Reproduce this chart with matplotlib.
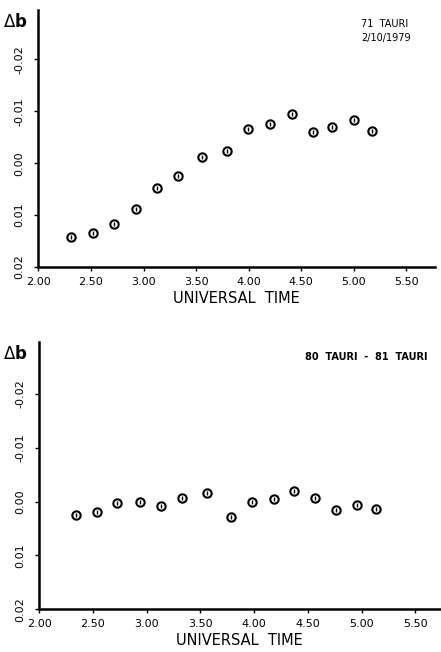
import numpy as np
import matplotlib
matplotlib.use('Agg')
import matplotlib.pyplot as plt

# 71 Tauri, 2/10/1979
ut_71 = [2.31, 2.52, 2.72, 2.93, 3.13, 3.33, 3.56, 3.79, 3.99, 4.20, 4.41, 4.61, 4.79, 5.00, 5.17]
db_71 = [0.0142, 0.0134, 0.0118, 0.0089, 0.0047, 0.0025, -0.0011, -0.0024, -0.0065, -0.0076,
         -0.0094, -0.0060, -0.0069, -0.0083, -0.0063]

# 80 Tauri - 81 Tauri
ut_80 = [2.345, 2.54, 2.72, 2.935, 3.135, 3.33, 3.56, 3.78, 3.98, 4.18, 4.37, 4.57, 4.765, 4.955, 5.13]
db_80 = [0.0025, 0.0019, 0.0002, 0.0001, 0.0008, -0.0006, -0.0016, 0.0029, 0.0001, -0.0005,
         -0.0019, -0.0006, 0.0015, 0.0007, 0.0014]

xticks = [2.00, 2.50, 3.00, 3.50, 4.00, 4.50, 5.00, 5.50]
yticks = [0.02, 0.01, 0.00, -0.01, -0.02]

plt.rcParams['font.family'] = ['DejaVu Sans']

fig = plt.figure(figsize=(4.41, 6.52), dpi=100)
ax1 = fig.add_axes([0.087, 0.5905, 0.899, 0.394])
ax2 = fig.add_axes([0.089, 0.0655, 0.909, 0.4105])


def setup(ax, x, y, xmax, ymin):
    ax.plot(x, y, 'o', ms=6, mfc='white', mec='black', mew=1.5, ls='none')
    ax.plot(x, y, '|', ms=2.5, mec='black', mew=1.0, ls='none')
    ax.set_xlim(2.0, xmax)
    ax.set_ylim(0.02, ymin)
    for s in ['top', 'right']:
        ax.spines[s].set_visible(False)
    for s in ['left', 'bottom']:
        ax.spines[s].set_linewidth(1.8)
    ax.set_xticks(xticks)
    ax.set_xticklabels(['%.2f' % v for v in xticks], fontsize=8)
    ax.set_yticks(yticks)
    ax.set_yticklabels(['%.2f' % v for v in yticks], fontsize=8, rotation=90, va='center')
    ax.tick_params(axis='x', direction='out', length=3, width=1.0, pad=4)
    ax.tick_params(axis='y', direction='out', length=3, width=1.0, pad=7)
    ax.set_xlabel('UNIVERSAL  TIME', fontsize=10.5, labelpad=3)
    ax.text(-0.09, 0.955, r'$\Delta$b', transform=ax.transAxes, fontsize=12, va='center',
            fontweight='bold')


setup(ax1, ut_71, db_71, 5.77, -0.0295)
ax1.text(5.07, -0.0255, '71  TAURI\n2/10/1979', fontsize=7, ha='left', va='center',
         linespacing=1.5)
setup(ax2, ut_80, db_80, 5.73, -0.0297)
ax2.text(5.61, -0.0268, '80  TAURI  -  81  TAURI', fontsize=7, ha='right', va='center',
         fontweight='bold')

fig.savefig('out.png', dpi=100)
